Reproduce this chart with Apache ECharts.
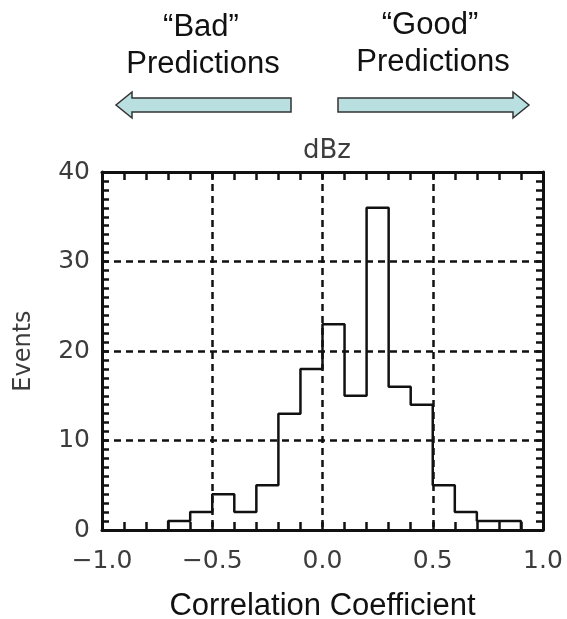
<!DOCTYPE html>
<html>
<head>
<meta charset="utf-8">
<script src="https://cdn.jsdelivr.net/npm/echarts@6/dist/echarts.min.js"></script>
<style>
  html, body { margin: 0; padding: 0; background: #fff; }
  #chart { width: 567px; height: 619px; }
</style>
</head>
<body>
<div id="chart"></div>
<script>
  // histogram bins (left edges), width 0.1
  const binStarts = [-0.7, -0.6, -0.5, -0.4, -0.3, -0.2, -0.1, 0.0, 0.1, 0.2, 0.3, 0.4, 0.5, 0.6, 0.7, 0.8]
  const counts = [1, 2, 4, 2, 5, 13, 18, 23, 15, 36, 16, 14, 5, 2, 1, 1]
  const binWidth = 0.1
  const xTicks = [-1.0, -0.5, 0.0, 0.5, 1.0]
  const yTicks = [0, 10, 20, 30, 40]

  // step outline: start at 0, one point per bin left edge, close back to 0
  const stepData = [[binStarts[0], 0]]
  binStarts.forEach((x, i) => stepData.push([x, counts[i]]))
  stepData.push([+(binStarts[binStarts.length - 1] + binWidth).toFixed(2), 0])

  const tickFont = { fontFamily: 'DejaVu Sans', fontSize: 25, color: '#3c3c3c' }
  const frame = { show: true, onZero: false, lineStyle: { color: '#111', width: 3 } }
  const grid = { show: true, lineStyle: { color: '#111', width: 2.5, type: [7, 5] } }
  const xTick = { show: true, inside: true, length: 8, lineStyle: { color: '#111', width: 2.5 } }
  const xMinor = { show: true, splitNumber: 5, length: 8, lineStyle: { color: '#111', width: 2.5 } }
  const yTick = { show: true, inside: true, length: 7, lineStyle: { color: '#111', width: 2.5 } }
  const yMinor = { show: true, splitNumber: 10, length: 7, lineStyle: { color: '#111', width: 2.5 } }

  const chart = echarts.init(document.getElementById('chart'))
  chart.setOption({
    backgroundColor: '#fff',
    animation: false,
    title: {
      text: 'dBz',
      left: 322,
      top: 133,
      textAlign: 'center',
      textStyle: { fontFamily: 'DejaVu Sans', fontSize: 26, fontWeight: 'normal', color: '#3c3c3c' }
    },
    grid: { left: 102, right: 24, top: 172, bottom: 89, outerBoundsMode: 'none' },
    xAxis: [{
      type: 'value',
      position: 'bottom',
      min: xTicks[0],
      max: xTicks[xTicks.length - 1],
      interval: 0.5,
      axisLine: frame,
      axisTick: xTick,
      minorTick: xMinor,
      splitLine: grid,
      axisLabel: Object.assign({ margin: 19, formatter: v => v.toFixed(1).replace('-', '\u2212') }, tickFont),
      name: 'Correlation Coefficient',
      nameLocation: 'middle',
      nameGap: 61,
      nameTextStyle: { fontFamily: 'Liberation Sans', fontSize: 31, color: '#111' }
    }, {
      type: 'value',
      position: 'top',
      min: xTicks[0],
      max: xTicks[xTicks.length - 1],
      interval: 0.5,
      axisLine: frame,
      axisTick: xTick,
      minorTick: xMinor,
      splitLine: { show: false },
      axisLabel: { show: false }
    }],
    yAxis: [{
      type: 'value',
      position: 'left',
      min: yTicks[0],
      max: yTicks[yTicks.length - 1],
      interval: 10,
      axisLine: frame,
      axisTick: yTick,
      minorTick: yMinor,
      splitLine: grid,
      axisLabel: Object.assign({ margin: 12 }, tickFont),
      name: 'Events',
      nameLocation: 'middle',
      nameGap: 66,
      nameTextStyle: { fontFamily: 'DejaVu Sans', fontSize: 24, color: '#3c3c3c' }
    }, {
      type: 'value',
      position: 'right',
      min: yTicks[0],
      max: yTicks[yTicks.length - 1],
      interval: 10,
      axisLine: frame,
      axisTick: yTick,
      minorTick: yMinor,
      splitLine: { show: false },
      axisLabel: { show: false }
    }],
    series: [{
      type: 'line',
      step: 'end',
      xAxisIndex: 0,
      yAxisIndex: 0,
      symbol: 'none',
      lineStyle: { color: '#111', width: 2.5 },
      data: stepData
    }],
    graphic: [
      // arrows above the plot
      {
        type: 'polygon',
        shape: { points: [[291, 98], [132, 98], [132, 92], [116, 105], [132, 118], [132, 112], [291, 112]] },
        style: { fill: '#b9dfe0', stroke: '#333', lineWidth: 1.5 }
      },
      {
        type: 'polygon',
        shape: { points: [[338, 98], [513, 98], [513, 92], [529, 105], [513, 118], [513, 112], [338, 112]] },
        style: { fill: '#b9dfe0', stroke: '#333', lineWidth: 1.5 }
      },
      { type: 'text', style: { text: '\u201cBad\u201d', x: 201, y: 27, textAlign: 'center', textVerticalAlign: 'middle', fill: '#111', font: '31px "Liberation Sans"' } },
      { type: 'text', style: { text: 'Predictions', x: 203, y: 64, textAlign: 'center', textVerticalAlign: 'middle', fill: '#111', font: '31px "Liberation Sans"' } },
      { type: 'text', style: { text: '\u201cGood\u201d', x: 430, y: 25, textAlign: 'center', textVerticalAlign: 'middle', fill: '#111', font: '31px "Liberation Sans"' } },
      { type: 'text', style: { text: 'Predictions', x: 433, y: 62, textAlign: 'center', textVerticalAlign: 'middle', fill: '#111', font: '31px "Liberation Sans"' } }
    ]
  })
</script>
</body>
</html>
